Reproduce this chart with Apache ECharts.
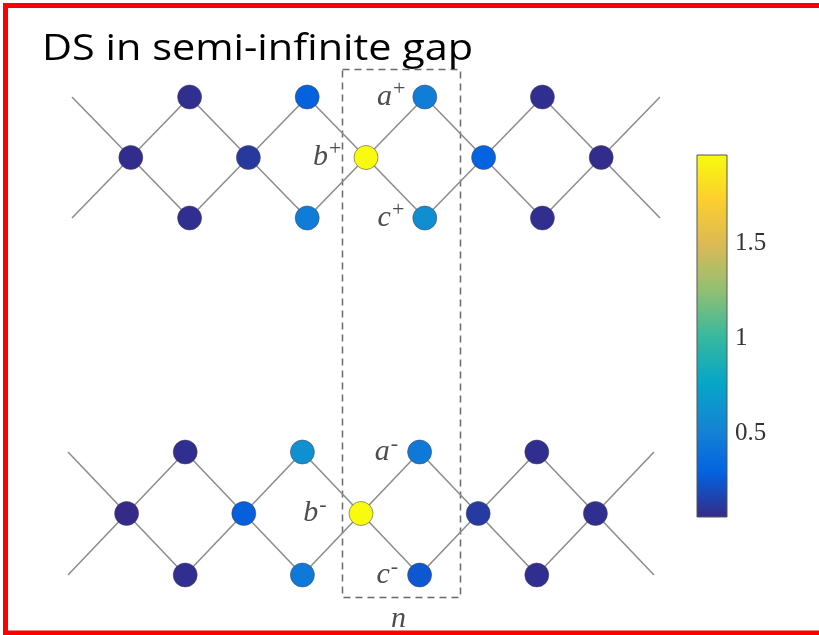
<!DOCTYPE html>
<html>
<head>
<meta charset="utf-8">
<script src="https://cdn.jsdelivr.net/npm/echarts@6/dist/echarts.min.js"></script>
<style>
  html, body { margin: 0; padding: 0; background: #fff; overflow: hidden; }
  #chart { width: 819px; height: 635px; }
</style>
</head>
<body>
<div id="chart"></div>
<script>
// Colour scale range of |psi|
const vmin = 0.058;
const vmax = 1.963;
const colorbarTicks = [0.5, 1, 1.5];

// Site amplitudes of the "+" chain: a-sites (top row), b-sites (middle row), c-sites (bottom row)
const upperA = [0.08, 0.29, 0.48, 0.08];
const upperB = [0.07, 0.12, 1.963, 0.30, 0.07];
const upperC = [0.08, 0.47, 0.60, 0.08];

// Site amplitudes of the "-" chain
const lowerA = [0.08, 0.62, 0.45, 0.08];
const lowerB = [0.06, 0.28, 1.963, 0.13, 0.08];
const lowerC = [0.08, 0.45, 0.25, 0.08];

// Unit cell n that is marked on both chains
const markedCell = 2;

// parula-like colour map
const PARULA = ['#352a87', '#0363e1', '#1485d4', '#06a7c6', '#38b99e',
                '#92bf73', '#d9ba56', '#fcce2e', '#f9fb0e'];

const chart = echarts.init(document.getElementById('chart'));

// Positions in lattice units: b-site k at x = 2k, a/c-site k at x = 2k+1; rows a=1, b=0, c=-1
function sites(A, B, C, sign) {
  const pts = [];
  const lab = (letter, dist) => ({
    show: true, position: 'left', distance: dist,
    formatter: '{i|' + letter + '}{s|' + sign + '}'
  });
  A.forEach((v, k) => {
    const d = { value: [2 * k + 1, 1, v] };
    if (k === markedCell) d.label = lab('a', sign === '+' ? 7 : 9);
    pts.push(d);
  });
  B.forEach((v, k) => {
    const d = { value: [2 * k, 0, v] };
    if (k === markedCell) d.label = lab('b', sign === '+' ? 12 : 22);
    pts.push(d);
  });
  C.forEach((v, k) => {
    const d = { value: [2 * k + 1, -1, v] };
    if (k === markedCell) d.label = lab('c', sign === '+' ? 8 : 9);
    pts.push(d);
  });
  return pts;
}

// Two zig-zag bond paths through every b-site; one visits the a-sites, the other the c-sites
function bondPaths(B) {
  const n = B.length;
  const up = [[-1, -1]], down = [[-1, 1]];
  for (let k = 0; k < n; k++) {
    up.push([2 * k, 0]);
    down.push([2 * k, 0]);
    if (k < n - 1) {
      up.push([2 * k + 1, 1]);
      down.push([2 * k + 1, -1]);
    }
  }
  up.push([2 * n - 1, -1]);
  down.push([2 * n - 1, 1]);
  return [up, down];
}

const labelRich = {
  i: { fontFamily: 'Liberation Serif', fontStyle: 'italic', fontSize: 30, color: '#4d4d4d', lineHeight: 34 },
  s: { fontFamily: 'Liberation Serif', fontSize: 22, color: '#4d4d4d', lineHeight: 34, padding: [0, 0, 16, 1] }
};

const bondStyle = { color: '#8e8e8e', width: 1.6, opacity: 1 };

function chainSeries(gridIdx, A, B, C, sign) {
  const out = [];
  bondPaths(B).forEach(path => {
    out.push({
      type: 'line', xAxisIndex: gridIdx, yAxisIndex: gridIdx,
      data: path, symbol: 'none', silent: true, animation: false,
      lineStyle: bondStyle, z: 1
    });
  });
  out.push({
    type: 'scatter', xAxisIndex: gridIdx, yAxisIndex: gridIdx,
    data: sites(A, B, C, sign), symbolSize: 24, clip: false, animation: false,
    itemStyle: { opacity: 1, borderColor: 'rgba(70,70,90,0.55)', borderWidth: 1 },
    label: { show: false, rich: labelRich },
    z: 3
  });
  return out;
}

const series = [].concat(
  chainSeries(0, upperA, upperB, upperC, '+'),
  chainSeries(1, lowerA, lowerB, lowerC, '-')
);
const scatterIdx = [2, 5];

// Colour bar drawn as a rectangle spanning vmin..vmax on its own axis
series.push({
  type: 'custom', xAxisIndex: 2, yAxisIndex: 2, animation: false, silent: true,
  data: [[0, vmin, vmax]],
  renderItem: function (params, api) {
    const top = api.coord([api.value(0), api.value(2)]);
    const bot = api.coord([api.value(0), api.value(1)]);
    const w = api.size([1, 0])[0];
    const stops = PARULA.map((c, i) => ({ offset: i / (PARULA.length - 1), color: c }));
    return {
      type: 'rect',
      shape: { x: top[0] - w / 2, y: top[1], width: w, height: bot[1] - top[1] },
      style: {
        fill: new echarts.graphic.LinearGradient(0, 1, 0, 0, stops),
        stroke: '#555', lineWidth: 1
      }
    };
  },
  z: 2
});

const frameStyle = { stroke: '#ff0000', lineWidth: 5 };

const option = {
  backgroundColor: '#fff',
  animation: false,
  grid: [
    { left: 72, top: 97, width: 588, height: 121 },
    { left: 68, top: 452, width: 586, height: 123 },
    { left: 697, top: 155, width: 30, height: 362 }
  ],
  xAxis: [
    { type: 'value', min: -1, max: 9, gridIndex: 0, show: false },
    { type: 'value', min: -1, max: 9, gridIndex: 1, show: false },
    { type: 'value', min: -0.5, max: 0.5, gridIndex: 2, show: false }
  ],
  yAxis: [
    { type: 'value', min: -1, max: 1, gridIndex: 0, show: false },
    { type: 'value', min: -1, max: 1, gridIndex: 1, show: false },
    {
      type: 'value', gridIndex: 2, min: vmin, max: vmax, position: 'right',
      axisLine: { show: false },
      splitLine: { show: false },
      axisTick: { show: true, inside: true, length: 4, lineStyle: { color: '#333' }, customValues: colorbarTicks },
      axisLabel: {
        show: true, customValues: colorbarTicks, margin: 8,
        fontFamily: 'Liberation Serif', fontSize: 25, color: '#333',
        formatter: v => String(v)
      }
    }
  ],
  visualMap: {
    type: 'continuous', show: false, dimension: 2,
    min: vmin, max: vmax, seriesIndex: scatterIdx,
    inRange: { color: PARULA }
  },
  graphic: [
    // frame edges: top, left, bottom (open on the right)
    { type: 'line', z: 10, silent: true, shape: { x1: 3, y1: 5.5, x2: 819, y2: 5.5 }, style: frameStyle },
    { type: 'line', z: 10, silent: true, shape: { x1: 5.5, y1: 3, x2: 5.5, y2: 635 }, style: frameStyle },
    { type: 'line', z: 10, silent: true, shape: { x1: 3, y1: 633, x2: 819, y2: 633 }, style: frameStyle },
    {
      // title
      type: 'text', z: 10, silent: true,
      x: 42, y: 31, scaleX: 1.12, scaleY: 1,
      style: { text: 'DS in semi-infinite gap', fontFamily: 'Open Sans', fontSize: 37, fill: '#000', verticalAlign: 'top' }
    },
    {
      type: 'rect', z: 0, silent: true,
      shape: { x: 342.5, y: 69.5, width: 118, height: 528 },
      style: { fill: 'none', stroke: '#6a6a6a', lineWidth: 1.5, lineDash: [7, 5] }
    },
    {
      type: 'text', z: 10, silent: true,
      left: 391, top: 604,
      style: { text: 'n', fontFamily: 'Liberation Serif', fontStyle: 'italic', fontSize: 30, fill: '#4d4d4d' }
    }
  ],
  series: series
};

chart.setOption(option);
</script>
</body>
</html>
